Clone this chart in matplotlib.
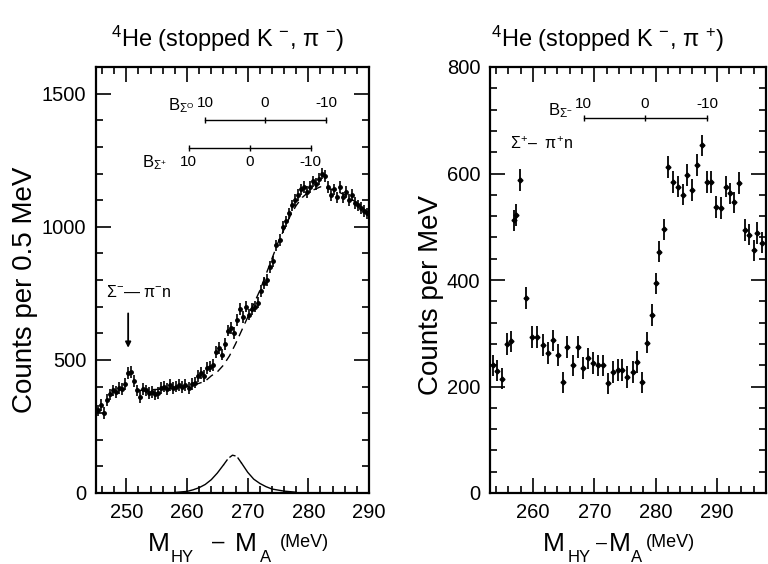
import numpy as np
import matplotlib.pyplot as plt
from matplotlib.ticker import MultipleLocator

plt.rcParams["font.family"] = ["Liberation Sans", "DejaVu Sans"]
plt.rcParams["mathtext.fontset"] = "custom"
plt.rcParams["mathtext.rm"] = "Liberation Sans"
plt.rcParams["mathtext.it"] = "Liberation Sans:italic"
plt.rcParams["mathtext.bf"] = "Liberation Sans:bold"

# -------------------- data: 4He(stopped K-, pi-) --------------------
mass_minus = np.arange(245.25, 290.0, 0.5)
counts_minus = [
    310, 330, 300, 350, 370, 385, 380, 395, 390, 410,
    450, 455, 420, 385, 360, 390, 385, 375, 380, 370,
    375, 395, 400, 390, 405, 395, 400, 405, 398, 405,
    395, 410, 415, 440, 450, 440, 470, 475, 480, 530,
    545, 520, 560, 610, 620, 600, 650, 690, 660, 700,
    670, 690, 700, 715, 760, 790, 800, 850, 870, 930,
    950, 1000, 1020, 1050, 1080, 1100, 1120, 1140, 1150, 1130,
    1150, 1170, 1160, 1180, 1200, 1190, 1150, 1120, 1140, 1110,
    1150, 1110, 1130, 1100, 1120, 1090, 1080, 1070, 1060, 1050,
]
err_minus = 22

# background fit (dashed)
bg_mass = [252, 254, 256, 258, 260, 262, 263, 264, 265, 266, 267, 268, 269,
           270, 271, 272, 273, 274, 275, 276, 277, 278, 279, 280, 282, 284,
           286, 288, 290]
bg_counts = [385, 388, 390, 395, 400, 412, 420, 440, 455, 480, 515, 560, 610,
             660, 710, 760, 820, 880, 940, 990, 1040, 1080, 1110, 1130, 1150,
             1140, 1120, 1090, 1050]

# Sigma hypernuclear peak (bottom curve)
peak_mass = [258, 260, 261, 262, 263, 264, 265, 266, 266.8, 267.5, 268.2,
             269, 270, 271, 272, 273, 274, 276, 278]
peak_counts = [2, 6, 12, 20, 32, 50, 75, 105, 130, 142, 138,
               112, 78, 52, 36, 24, 15, 7, 3]

# binding-energy scales (B = 10, 0, -10 MeV)
b_sigma0_mass = [263.0, 272.8, 282.9]
b_sigmap_mass = [260.3, 270.4, 280.4]
b_labels = ["10", "0", "-10"]

# -------------------- data: 4He(stopped K-, pi+) --------------------
mass_plus = [253.5, 254.2, 255.0, 255.7, 256.4, 256.9, 257.3, 257.9, 258.9,
             259.8, 260.6, 261.6, 262.4, 263.3, 264.1, 264.9, 265.5, 266.5,
             267.3, 268.1, 269.0, 269.8, 270.6, 271.4, 272.2, 273.0, 273.8,
             274.6, 275.4, 276.3, 277.0, 277.8, 278.6, 279.4, 280.0, 280.6,
             281.4, 282.1, 282.8, 283.6, 284.4, 285.2, 286.0, 286.7, 287.5,
             288.3, 289.1, 289.9, 290.7, 291.4, 292.2, 292.8, 293.6, 294.6,
             295.3, 296.1, 296.6, 297.4]
counts_plus = [240, 230, 215, 280, 285, 512, 522, 588, 366,
               293, 293, 278, 263, 287, 259, 208, 274, 240,
               274, 235, 253, 244, 240, 240, 206, 227, 231,
               231, 218, 227, 246, 208, 282, 334, 394, 453,
               495, 612, 584, 575, 560, 597, 569, 616, 653,
               584, 584, 537, 535, 575, 563, 546, 582, 494,
               485, 456, 488, 470]
err_plus = 20

b_sigmam_mass = [268.3, 278.2, 288.4]

W, H = 768, 564


def fig_xy(x, y):
    """pixel position -> figure fraction"""
    return x / W, 1 - y / H


def style_axes(ax, xmin, xmax, ymin, ymax, ymajor, yminor):
    ax.set_xlim(xmin, xmax)
    ax.set_ylim(ymin, ymax)
    ax.xaxis.set_major_locator(MultipleLocator(10))
    ax.xaxis.set_minor_locator(MultipleLocator(2))
    ax.yaxis.set_major_locator(MultipleLocator(ymajor))
    ax.yaxis.set_minor_locator(MultipleLocator(yminor))
    ax.tick_params(which="both", direction="in", top=True, right=True,
                   width=1.2, labelsize=14.5, pad=7)
    ax.tick_params(which="major", length=11)
    ax.tick_params(which="minor", length=5)
    for sp in ax.spines.values():
        sp.set_linewidth(1.6)


def mass_label(parts):
    for txt, x, y, size in parts:
        fx, fy = fig_xy(x, y)
        fig.text(fx, fy, txt, fontsize=size, ha="center", va="baseline")


fig = plt.figure(figsize=(W / 100, H / 100), dpi=100)

# -------------------- left panel --------------------
ax1 = fig.add_axes([96 / W, 71 / H, 273 / W, 426 / H])
style_axes(ax1, 245, 290, 0, 1600, 500, 100)
ax1.errorbar(mass_minus, counts_minus, yerr=err_minus, fmt="o", ms=2.5,
             color="black", elinewidth=1.2, capsize=0)
ax1.plot(bg_mass, bg_counts, "k--", lw=1.0, dashes=(6, 4))
peak_mass = np.array(peak_mass)
peak_counts = np.array(peak_counts)
top = (peak_mass >= 266) & (peak_mass <= 269)
ax1.plot(peak_mass[peak_mass <= 266], peak_counts[peak_mass <= 266], "k-", lw=1.0)
ax1.plot(peak_mass[top], peak_counts[top], "k--", lw=1.0, dashes=(5, 2))
ax1.plot(peak_mass[peak_mass >= 269], peak_counts[peak_mass >= 269], "k-", lw=1.0)

# binding-energy scales
ax1.plot([b_sigma0_mass[0], b_sigma0_mass[-1]], [1400, 1400], "k-", lw=1.0,
         marker="|", ms=5)
ax1.plot([b_sigma0_mass[1]], [1400], "k|", ms=5)
for m, lab in zip(b_sigma0_mass, b_labels):
    ax1.text(m, 1440, lab, fontsize=11, ha="center", va="bottom")
ax1.text(261.3, 1420, r"B$_{\Sigma^{\mathrm{O}}}$", fontsize=12, ha="right", va="bottom")

ax1.plot([b_sigmap_mass[0], b_sigmap_mass[-1]], [1295, 1295], "k-", lw=1.0,
         marker="|", ms=5)
ax1.plot([b_sigmap_mass[1]], [1295], "k|", ms=5)
for m, lab in zip(b_sigmap_mass, b_labels):
    ax1.text(m, 1270, lab, fontsize=11, ha="center", va="top")
ax1.text(254.7, 1205, r"B$_{\Sigma^{+}}$", fontsize=12, ha="center", va="bottom")

ax1.text(246.7, 725, r"$\Sigma^{-}$— π$^{-}$n", fontsize=11.5, ha="left", va="bottom")
ax1.annotate("", xy=(250.3, 535), xytext=(250.3, 685),
             arrowprops=dict(arrowstyle="-|>", lw=1.3, color="black",
                             mutation_scale=8))

# -------------------- right panel --------------------
ax2 = fig.add_axes([490 / W, 71 / H, 276 / W, 426 / H])
style_axes(ax2, 253, 298, 0, 800, 200, 40)
ax2.errorbar(mass_plus, counts_plus, yerr=err_plus, fmt="D", ms=2.5,
             color="black", elinewidth=1.3, capsize=0)

ax2.plot([b_sigmam_mass[0], b_sigmam_mass[-1]], [704, 704], "k-", lw=1.0,
         marker="|", ms=5)
ax2.plot([b_sigmam_mass[1]], [704], "k|", ms=5)
for m, lab in zip(b_sigmam_mass, b_labels):
    ax2.text(m, 718, lab, fontsize=11, ha="center", va="bottom")
ax2.text(264.5, 700, r"B$_{\Sigma^{-}}$", fontsize=12, ha="center", va="bottom")
ax2.text(256.2, 640, r"$\Sigma^{+}$–  π$^{+}$n", fontsize=11.5, ha="left", va="bottom")

# -------------------- titles and axis labels --------------------
fx, fy = fig_xy(228, 47)
fig.text(fx, fy, r"$^{4}$He (stopped K $^{-}$, π $^{-}$)", fontsize=17,
         ha="center", va="baseline")
fx, fy = fig_xy(608, 47)
fig.text(fx, fy, r"$^{4}$He (stopped K $^{-}$, π $^{+}$)", fontsize=17,
         ha="center", va="baseline")

fx, fy = fig_xy(25, 290)
fig.text(fx, fy, "Counts per 0.5 MeV", fontsize=20, rotation=90,
         ha="center", va="center")
fx, fy = fig_xy(431, 295)
fig.text(fx, fy, "Counts per MeV", fontsize=20, rotation=90,
         ha="center", va="center")

mass_label([("M", 159, 551, 19), ("HY", 182, 562, 12), ("–", 218, 548, 16),
            ("M", 246, 551, 19), ("A", 266, 562, 12), ("(MeV)", 304, 547, 13)])
mass_label([("M", 554, 551, 19), ("HY", 579, 562, 12), ("–", 601, 548, 14),
            ("M", 620, 551, 19), ("A", 637, 562, 12), ("(MeV)", 670, 547, 13)])

fig.savefig("out.png", dpi=100)
